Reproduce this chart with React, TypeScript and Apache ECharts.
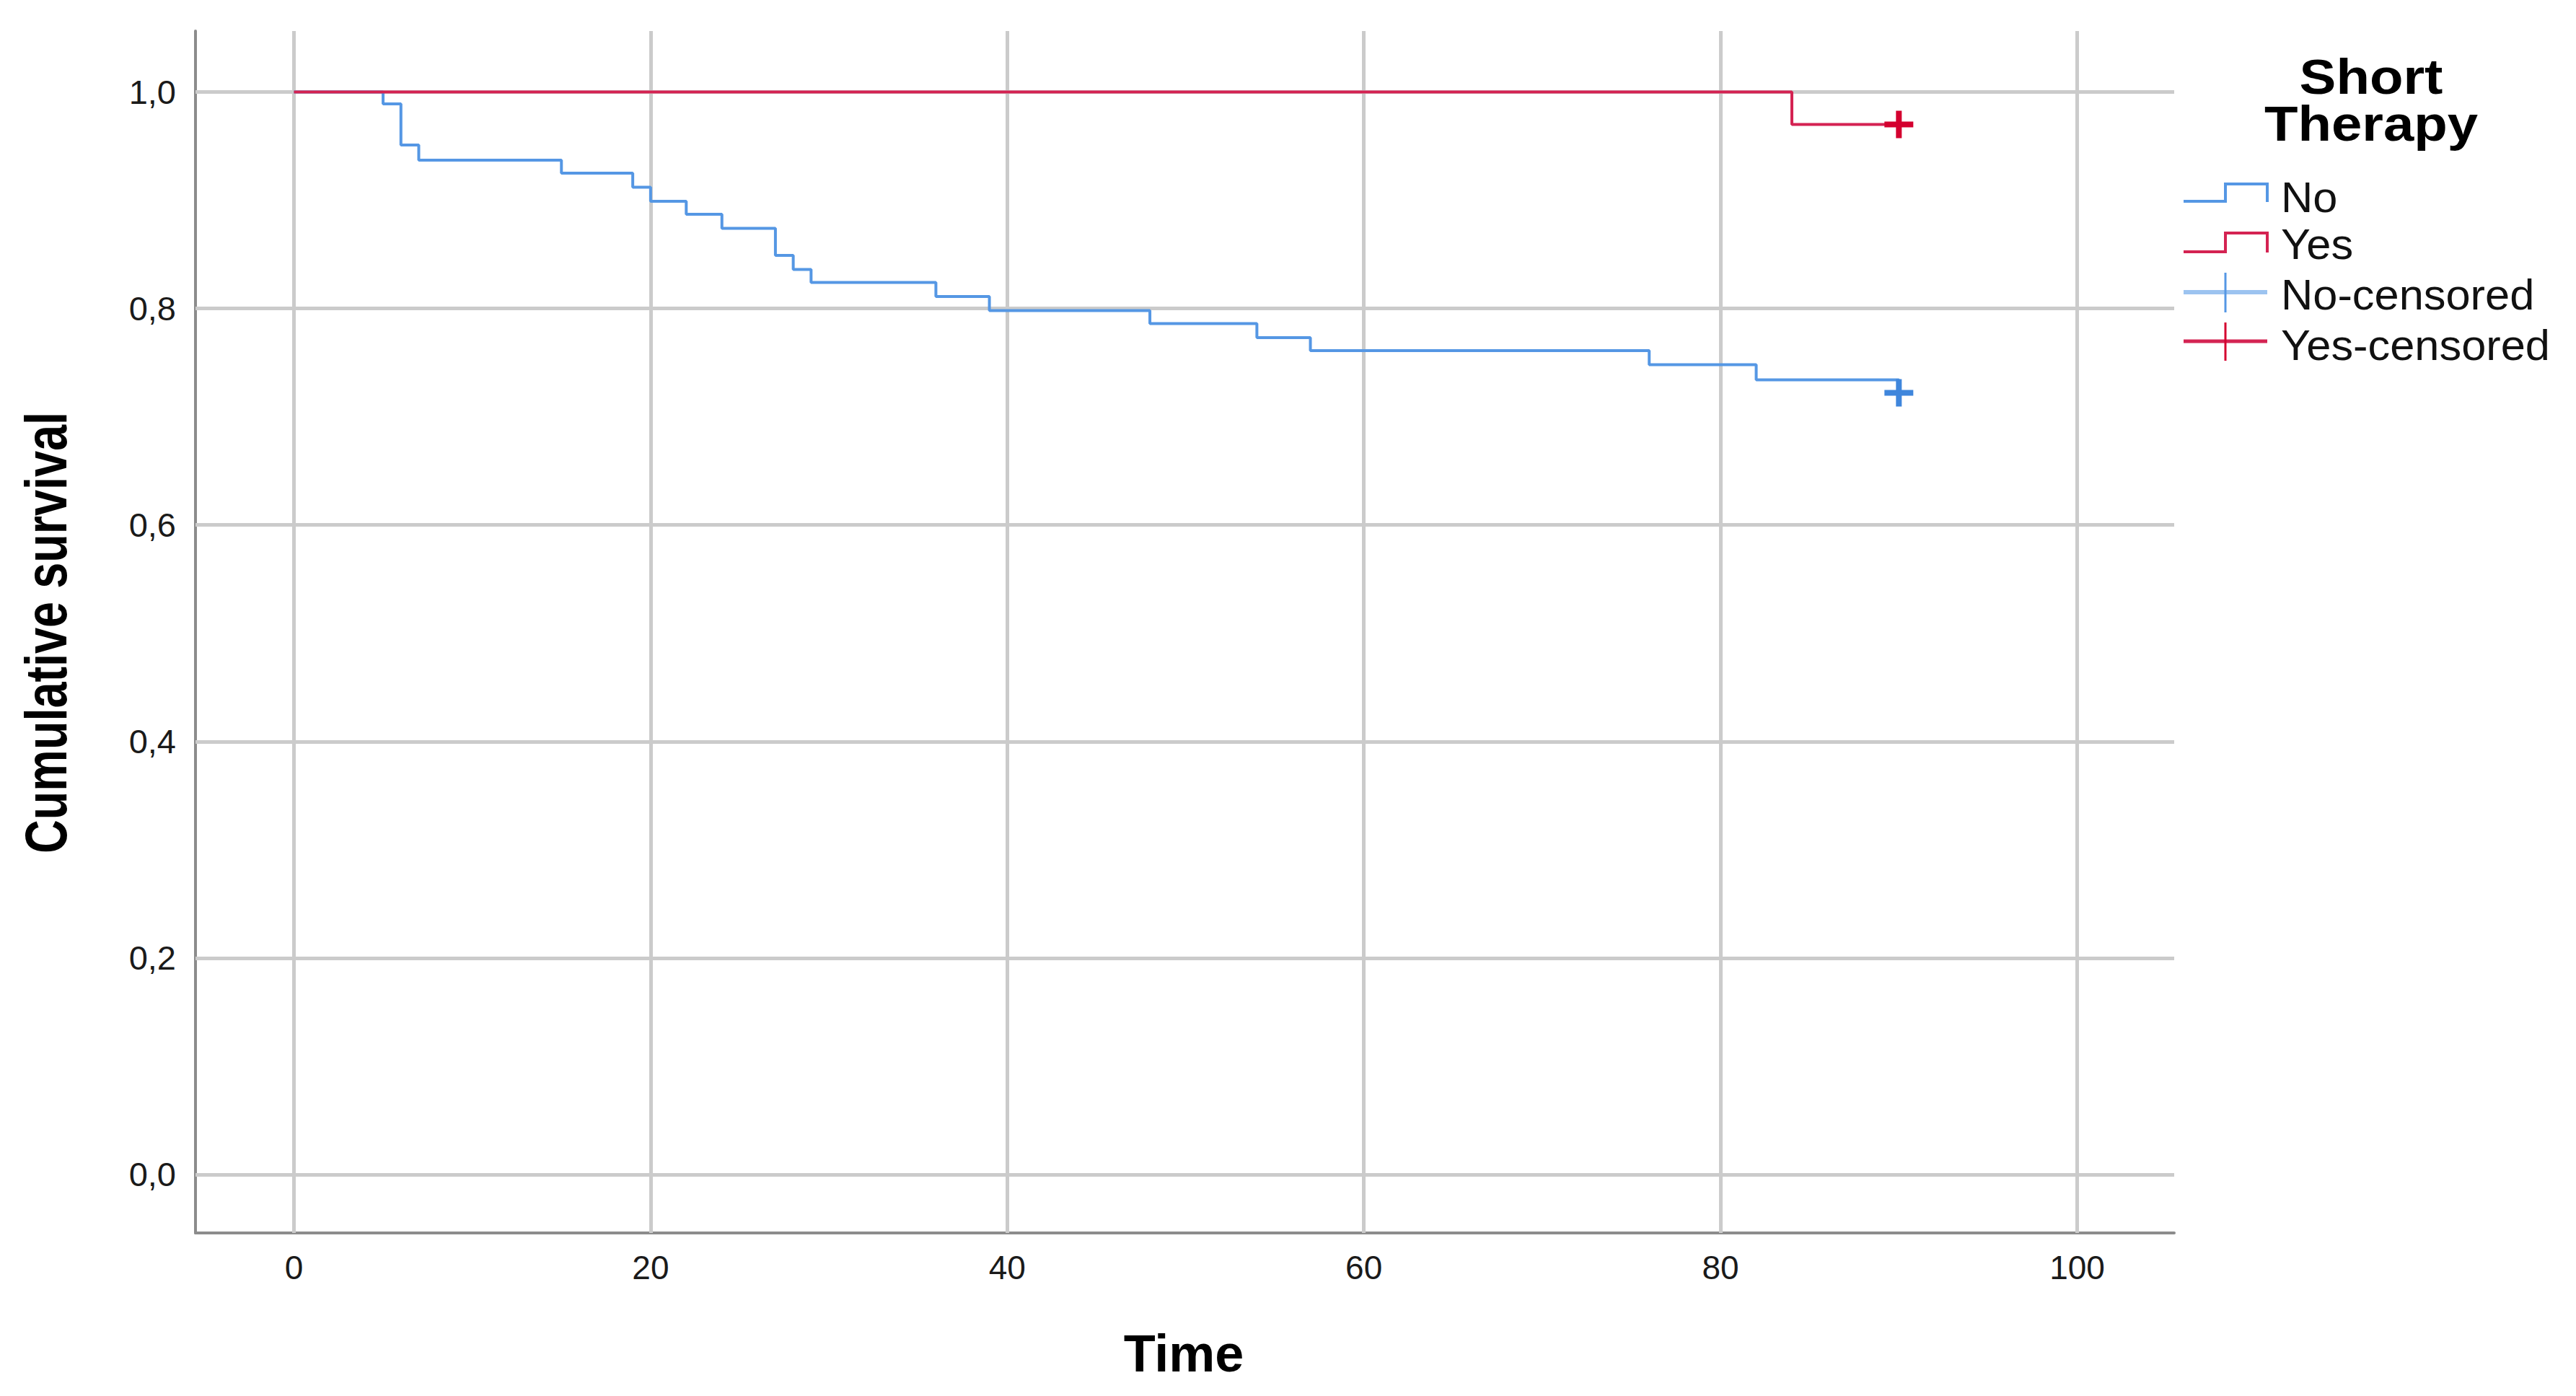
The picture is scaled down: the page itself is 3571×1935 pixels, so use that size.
import React, { useEffect, useRef } from "react";
import * as echarts from "echarts";

// ---- data ----
const noTimes = [0, 5, 6, 7, 15, 19, 20, 22, 24, 27, 28, 29, 36, 39, 48, 54, 57, 76, 82, 90];
const noSurvival = [1.0, 0.989, 0.951, 0.937, 0.925, 0.912, 0.899, 0.887, 0.874, 0.849, 0.836, 0.824, 0.811, 0.798, 0.786, 0.773, 0.761, 0.748, 0.734, 0.722];
const yesTimes = [0, 84, 90];
const yesSurvival = [1.0, 0.97, 0.97];
const noCensoredTimes = [90];
const noCensoredSurvival = [0.722];
const yesCensoredTimes = [90];
const yesCensoredSurvival = [0.97];

const xTicks = [0, 20, 40, 60, 80, 100];
const yTicks = [0, 0.2, 0.4, 0.6, 0.8, 1.0];

const legendTitle = ["Short", "Therapy"];
const legendLabels = ["No", "Yes", "No-censored", "Yes-censored"];

const BLUE = "#5597e4";
const RED = "#d42352";
const BLUE_C = "#3f86dc";
const RED_C = "#d4002f";
const GRID = "#cbcbcb";
const AXIS = "#8c8c8c";
const FONT = '"Liberation Sans", Arial, sans-serif';

const PLUS = "path://M0,15 L40,15 L40,23 L0,23 Z M16,0 L24,0 L24,38 L16,38 Z";

const zip = (a: number[], b: number[]) => a.map((v, i) => [v, b[i]]);

export default function App() {
  const ref = useRef<HTMLDivElement>(null);

  useEffect(() => {
    if (!ref.current) return;
    const chart = echarts.init(ref.current, undefined, { renderer: "svg" });

    const legendX0 = 3027;
    const legendX1 = 3085;
    const legendX2 = 3143;
    const textX = 3162;
    const rowY = [274, 339, 409, 479];

    const graphic: any[] = [
      {
        type: "text",
        x: 64,
        y: 877,
        rotation: Math.PI / 2,
        scaleX: 0.8,
        style: {
          text: "Cumulative survival",
          fontSize: 81,
          fontWeight: "bold",
          fontFamily: FONT,
          fill: "#000",
          align: "center",
          verticalAlign: "middle",
        },
      },
      {
        type: "text",
        x: 1641,
        y: 1876,
        style: {
          text: "Time",
          fontSize: 72,
          fontWeight: "bold",
          fontFamily: FONT,
          fill: "#000",
          align: "center",
          verticalAlign: "middle",
        },
      },
      ...legendTitle.map((t, i) => ({
        type: "text",
        x: 3287,
        y: i === 0 ? 106 : 171,
        scaleX: 1.12,
        style: {
          text: t,
          fontSize: 68,
          fontWeight: "bold",
          fontFamily: FONT,
          fill: "#000",
          align: "center",
          verticalAlign: "middle",
        },
      })),
      ...legendLabels.map((t, i) => ({
        type: "text",
        x: textX,
        y: rowY[i],
        scaleX: 1.04,
        style: {
          text: t,
          fontSize: 59,
          fontFamily: FONT,
          fill: "#111",
          align: "left",
          verticalAlign: "middle",
        },
      })),
      // step icons
      {
        type: "polyline",
        shape: { points: [[legendX0, 279], [legendX1, 279], [legendX1, 255], [legendX2, 255], [legendX2, 280]] },
        style: { stroke: BLUE, lineWidth: 4, fill: null },
      },
      {
        type: "polyline",
        shape: { points: [[legendX0, 349], [legendX1, 349], [legendX1, 323], [legendX2, 323], [legendX2, 350]] },
        style: { stroke: RED, lineWidth: 4, fill: null },
      },
      // censored icons
      {
        type: "line",
        shape: { x1: legendX0, y1: 405, x2: legendX2, y2: 405 },
        style: { stroke: "#9cc3f0", lineWidth: 6 },
      },
      {
        type: "line",
        shape: { x1: legendX1, y1: 378, x2: legendX1, y2: 433 },
        style: { stroke: BLUE, lineWidth: 3 },
      },
      {
        type: "line",
        shape: { x1: legendX0, y1: 473, x2: legendX2, y2: 473 },
        style: { stroke: RED, lineWidth: 5 },
      },
      {
        type: "line",
        shape: { x1: legendX1, y1: 447, x2: legendX1, y2: 500 },
        style: { stroke: RED_C, lineWidth: 3 },
      },
    ];

    const option: any = {
      animation: false,
      backgroundColor: "#fff",
      grid: { left: 271, right: 557, top: 43, bottom: 226, containLabel: false },
      xAxis: {
        type: "value",
        min: -5.52,
        max: 105.44,
        axisLine: { show: true, onZero: false, lineStyle: { color: AXIS, width: 4 } },
        axisTick: { show: false },
        splitLine: { show: false },
        axisLabel: {
          customValues: xTicks,
          formatter: (v: number) => String(v),
          fontSize: 46,
          fontFamily: FONT,
          color: "#1a1a1a",
          margin: 25,
        },
      },
      yAxis: {
        type: "value",
        min: -0.054,
        max: 1.0563,
        axisLine: { show: true, onZero: false, lineStyle: { color: AXIS, width: 4 } },
        axisTick: { show: false },
        splitLine: { show: false },
        axisLabel: {
          customValues: yTicks,
          formatter: (v: number) => v.toFixed(1).replace(".", ","),
          fontSize: 47,
          fontFamily: FONT,
          color: "#1a1a1a",
          margin: 27,
          padding: [12, 0, 0, 0],
        },
      },
      graphic,
      series: [
        {
          name: "grid",
          type: "line",
          data: [],
          z: 1,
          silent: true,
          markLine: {
            z: 1,
            silent: true,
            symbol: ["none", "none"],
            label: { show: false },
            lineStyle: { color: GRID, width: 5, type: "solid" },
            emphasis: { disabled: true },
            data: [
              ...xTicks.map((v) => ({ xAxis: v })),
              ...yTicks.map((v) => ({ yAxis: v })),
            ],
          },
        },
        {
          name: "No",
          type: "line",
          step: "end",
          showSymbol: false,
          z: 3,
          data: zip(noTimes, noSurvival),
          lineStyle: { color: BLUE, width: 4 },
          itemStyle: { color: BLUE },
        },
        {
          name: "Yes",
          type: "line",
          step: "end",
          showSymbol: false,
          z: 4,
          data: zip(yesTimes, yesSurvival),
          lineStyle: { color: RED, width: 4 },
          itemStyle: { color: RED },
        },
        {
          name: "No-censored",
          type: "scatter",
          z: 5,
          symbol: PLUS,
          symbolSize: [40, 38],
          data: zip(noCensoredTimes, noCensoredSurvival),
          itemStyle: { color: BLUE_C, opacity: 1 },
        },
        {
          name: "Yes-censored",
          type: "scatter",
          z: 5,
          symbol: PLUS,
          symbolSize: [40, 38],
          data: zip(yesCensoredTimes, yesCensoredSurvival),
          itemStyle: { color: RED_C, opacity: 1 },
        },
      ],
    };

    chart.setOption(option);
    return () => chart.dispose();
  }, []);

  return (
    <div
      ref={ref}
      style={{ position: "absolute", left: 0, top: 0, width: 3571, height: 1935, background: "#fff" }}
    />
  );
}
